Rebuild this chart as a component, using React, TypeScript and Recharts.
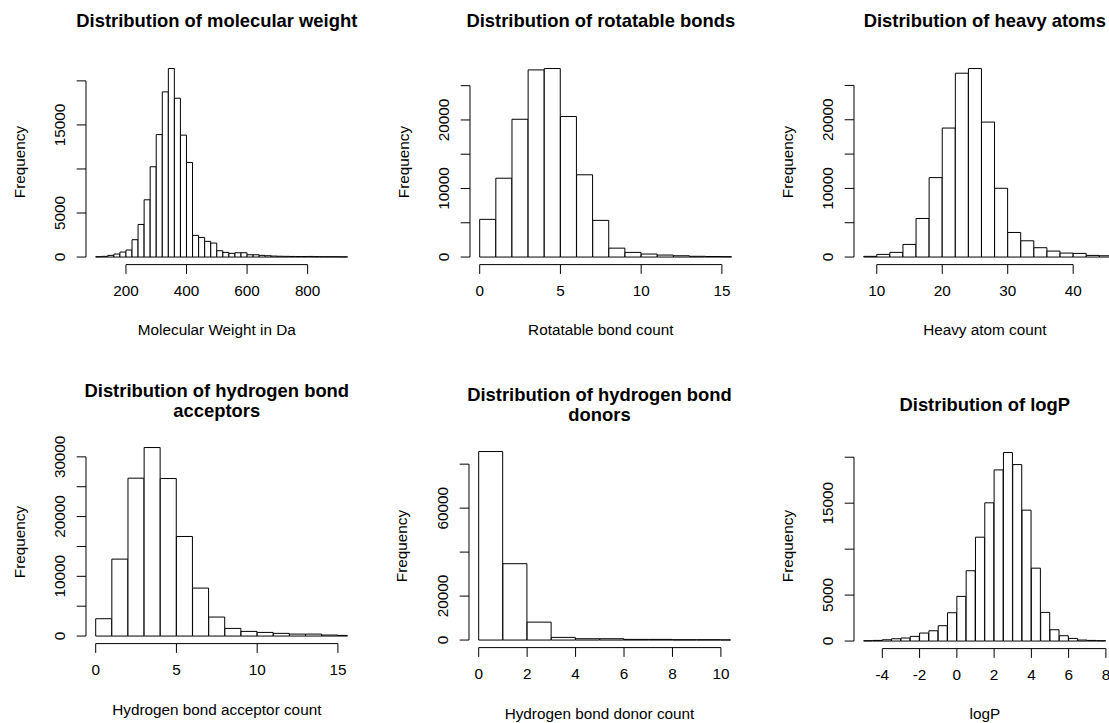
import React from 'react';
import { BarChart, Bar, XAxis, YAxis, ReferenceLine } from 'recharts';

// ---------- data ----------
const mwBins = [100, 120, 140, 160, 180, 200, 220, 240, 260, 280, 300, 320, 340, 360, 380, 400, 420, 440, 460, 480, 500, 520, 540, 560, 580, 600, 620, 640, 660, 680, 700, 720, 740, 760, 780, 800, 820, 840, 860, 880, 900, 920];
const mwCounts = [40, 80, 190, 340, 570, 800, 1970, 3700, 6500, 10250, 13900, 18750, 21400, 18030, 13840, 10740, 2460, 2230, 1780, 1590, 720, 530, 420, 490, 490, 260, 260, 190, 150, 110, 90, 80, 70, 60, 60, 70, 50, 40, 40, 40, 30, 30];
const mwXTicks = [200, 400, 600, 800];
const mwYTicks = [0, 5000, 10000, 15000, 20000];
const mwYLabels = [0, 5000, 15000];

const rbBins = [0, 1, 2, 3, 4, 5, 6, 7, 8, 9, 10, 11, 12, 13, 14, 15];
const rbCounts = [5500, 11500, 20100, 27300, 27500, 20500, 12000, 5350, 1300, 680, 440, 290, 190, 110, 80, 60];
const rbXTicks = [0, 5, 10, 15];
const rbYTicks = [0, 5000, 10000, 15000, 20000, 25000];
const rbYLabels = [0, 10000, 20000];

const haBins = [8, 10, 12, 14, 16, 18, 20, 22, 24, 26, 28, 30, 32, 34, 36, 38, 40, 42, 44, 46];
const haCounts = [100, 390, 680, 1840, 5620, 11570, 18790, 26780, 27460, 19660, 10020, 3580, 2370, 1360, 870, 580, 530, 240, 190, 130];
const haXTicks = [10, 20, 30, 40];
const haYTicks = [0, 5000, 10000, 15000, 20000, 25000];
const haYLabels = [0, 10000, 20000];

const hbaBins = [0, 1, 2, 3, 4, 5, 6, 7, 8, 9, 10, 11, 12, 13, 14, 15];
const hbaCounts = [2900, 12880, 26430, 31560, 26370, 16670, 8030, 3180, 1280, 780, 610, 450, 330, 330, 170, 110];
const hbaXTicks = [0, 5, 10, 15];
const hbaYTicks = [0, 5000, 10000, 15000, 20000, 25000, 30000];
const hbaYLabels = [0, 10000, 20000, 30000];

const hbdBins = [0, 1, 2, 3, 4, 5, 6, 7, 8, 9, 10];
const hbdCounts = [85740, 34720, 8150, 1210, 600, 600, 300, 300, 150, 150, 80];
const hbdXTicks = [0, 2, 4, 6, 8, 10];
const hbdYTicks = [0, 20000, 40000, 60000, 80000];
const hbdYLabels = [0, 20000, 60000];

const lpBins = [-5, -4.5, -4, -3.5, -3, -2.5, -2, -1.5, -1, -0.5, 0, 0.5, 1, 1.5, 2, 2.5, 3, 3.5, 4, 4.5, 5, 5.5, 6, 6.5, 7, 7.5];
const lpCounts = [40, 70, 140, 250, 330, 510, 870, 1120, 1670, 3080, 4860, 7650, 11300, 15040, 18620, 20510, 19200, 14240, 7930, 3120, 1230, 580, 290, 110, 70, 40];
const lpXTicks = [-4, -2, 0, 2, 4, 6, 8];
const lpYTicks = [0, 5000, 10000, 15000, 20000];
const lpYLabels = [0, 5000, 15000];

// ---------- layout ----------
const FONT = '"Liberation Sans", Arial, Helvetica, sans-serif';
const PLOT_W = 261.6;
const PLOT_H = 203.6;
const ML = 70;
const MT = 12;
const MR = 12;
const MB = 50;
const AXIS_FS = 15.3;
const TITLE_FS = 18.4;
const INK = '#000';

type PanelDef = {
  title: string;
  xlabel: string;
  bins: number[];
  binWidth: number;
  counts: number[];
  xlim: [number, number];
  xTicks: number[];
  yTicks: number[];
  yLabels: number[];
  left: number;
  top: number;
};

const panels: PanelDef[] = [
  { title: 'Distribution of molecular weight', xlabel: 'Molecular Weight in Da', bins: mwBins, binWidth: 20, counts: mwCounts, xlim: [100, 900], xTicks: mwXTicks, yTicks: mwYTicks, yLabels: mwYLabels, left: 86, top: 60.5 },
  { title: 'Distribution of rotatable bonds', xlabel: 'Rotatable bond count', bins: rbBins, binWidth: 1, counts: rbCounts, xlim: [0, 15], xTicks: rbXTicks, yTicks: rbYTicks, yLabels: rbYLabels, left: 470, top: 60.5 },
  { title: 'Distribution of heavy atoms', xlabel: 'Heavy atom count', bins: haBins, binWidth: 2, counts: haCounts, xlim: [8, 45], xTicks: haXTicks, yTicks: haYTicks, yLabels: haYLabels, left: 854, top: 60.5 },
  { title: 'Distribution of hydrogen bond\nacceptors', xlabel: 'Hydrogen bond acceptor count', bins: hbaBins, binWidth: 1, counts: hbaCounts, xlim: [0, 15], xTicks: hbaXTicks, yTicks: hbaYTicks, yLabels: hbaYLabels, left: 86, top: 440 },
  { title: 'Distribution of hydrogen bond\ndonors', xlabel: 'Hydrogen bond donor count', bins: hbdBins, binWidth: 1, counts: hbdCounts, xlim: [0, 10], xTicks: hbdXTicks, yTicks: hbdYTicks, yLabels: hbdYLabels, left: 468.7, top: 444 },
  { title: 'Distribution of logP', xlabel: 'logP', bins: lpBins, binWidth: 0.5, counts: lpCounts, xlim: [-5, 8], xTicks: lpXTicks, yTicks: lpYTicks, yLabels: lpYLabels, left: 854, top: 444.5 },
];

function Histogram({ p }: { p: PanelDef }) {
  const data = p.bins.map((b, i) => ({ x: b + p.binWidth / 2, count: p.counts[i] }));
  const yMax = Math.max(...p.counts);
  const yDomain: [number, number] = [-0.04 * yMax, 1.04 * yMax];
  const span = p.xlim[1] - p.xlim[0];
  const xDomain: [number, number] = [p.xlim[0] - 0.04 * span, p.xlim[1] + 0.04 * span];

  const xTick = (props: any) => {
    const { x, payload } = props;
    return (
      <text x={x} y={MT + PLOT_H + 31.5} textAnchor="middle" fontSize={AXIS_FS} fontFamily={FONT} fill={INK}>
        {payload.value}
      </text>
    );
  };
  const yTick = (props: any) => {
    const { y, payload } = props;
    if (!p.yLabels.includes(payload.value)) return <g />;
    const cx = ML - 20.5;
    return (
      <text x={cx} y={y} transform={`rotate(-90 ${cx} ${y})`} textAnchor="middle" fontSize={AXIS_FS} fontFamily={FONT} fill={INK}>
        {payload.value}
      </text>
    );
  };

  const lastX = p.xTicks[p.xTicks.length - 1];
  const lastY = p.yTicks[p.yTicks.length - 1];

  return (
    <div style={{ position: 'absolute', left: p.left - ML, top: p.top - MT }}>
      <BarChart
        width={ML + PLOT_W + MR}
        height={MT + PLOT_H + MB}
        data={data}
        margin={{ top: MT, right: MR, left: 0, bottom: 0 }}
        barCategoryGap={0}
        barGap={0}
      >
        <XAxis
          dataKey="x"
          type="number"
          domain={xDomain}
          allowDataOverflow
          ticks={p.xTicks}
          interval={0}
          height={MB}
          axisLine={false}
          tickLine={{ stroke: INK, strokeWidth: 1 }}
          tickSize={9.3}
          tickMargin={0}
          tick={xTick}
        />
        <YAxis
          type="number"
          domain={yDomain}
          allowDataOverflow
          ticks={p.yTicks}
          interval={0}
          width={ML}
          axisLine={false}
          tickLine={{ stroke: INK, strokeWidth: 1 }}
          tickSize={9.3}
          tickMargin={0}
          tick={yTick}
        />
        <ReferenceLine
          segment={[{ x: p.xTicks[0], y: yDomain[0] }, { x: lastX, y: yDomain[0] }]}
          stroke={INK}
          strokeWidth={1}
          ifOverflow="visible"
        />
        <ReferenceLine
          segment={[{ x: xDomain[0], y: 0 }, { x: xDomain[0], y: lastY }]}
          stroke={INK}
          strokeWidth={1}
          ifOverflow="visible"
        />
        <Bar dataKey="count" fill="#ffffff" stroke={INK} strokeWidth={1} isAnimationActive={false} />
      </BarChart>
    </div>
  );
}

function PanelText({ p }: { p: PanelDef }) {
  const cx = p.left + PLOT_W / 2;
  const bottom = p.top + PLOT_H;
  return (
    <>
      <div
        style={{
          position: 'absolute', left: cx, top: p.top - 39.5, transform: 'translate(-50%, -50%)',
          fontFamily: FONT, fontWeight: 'bold', fontSize: TITLE_FS, lineHeight: '20px',
          whiteSpace: 'pre', textAlign: 'center', color: INK,
        }}
      >
        {p.title}
      </div>
      <div
        style={{
          position: 'absolute', left: cx, top: bottom + 66, transform: 'translate(-50%, -50%)',
          fontFamily: FONT, fontSize: AXIS_FS, lineHeight: 1, whiteSpace: 'nowrap', color: INK,
        }}
      >
        {p.xlabel}
      </div>
      <div
        style={{
          position: 'absolute', left: p.left - 66.5, top: p.top + PLOT_H / 2,
          transform: 'translate(-50%, -50%) rotate(-90deg)',
          fontFamily: FONT, fontSize: AXIS_FS, lineHeight: 1, whiteSpace: 'nowrap', color: INK,
        }}
      >
        Frequency
      </div>
    </>
  );
}

export default function App() {
  return (
    <div style={{ position: 'absolute', left: 0, top: 0, width: 1109, height: 723, overflow: 'hidden', background: '#fff' }}>
      {panels.map((p, i) => (
        <React.Fragment key={i}>
          <Histogram p={p} />
          <PanelText p={p} />
        </React.Fragment>
      ))}
    </div>
  );
}
